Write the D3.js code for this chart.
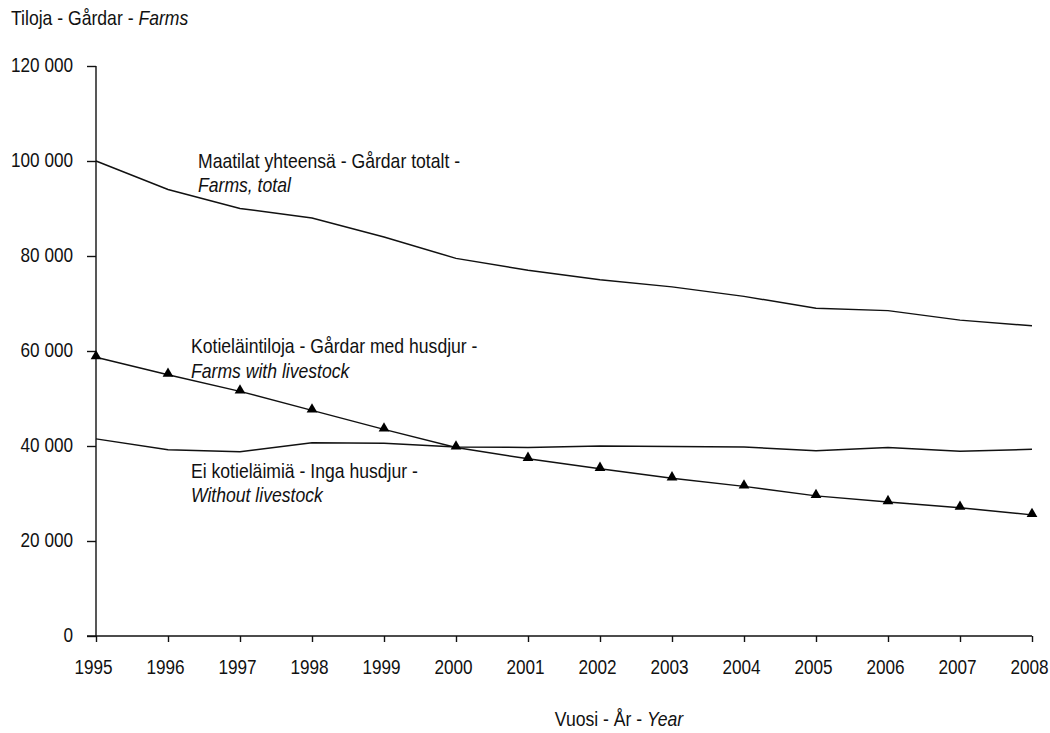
<!DOCTYPE html>
<html><head><meta charset="utf-8">
<script src="https://cdn.jsdelivr.net/npm/d3@7"></script>
<style>
body{margin:0;background:#fff;}
text{font-family:"Liberation Sans",Arial,sans-serif;fill:#111;}
</style></head><body>
<svg id="c" width="1050" height="733"></svg>
<script>
const years = [1995,1996,1997,1998,1999,2000,2001,2002,2003,2004,2005,2006,2007,2008];
const farmsTotal = [100000,94000,90000,88000,84000,79500,77000,75000,73500,71500,69000,68500,66500,65300];
const withLivestock = [58700,55000,51500,47500,43500,39700,37300,35200,33200,31500,29500,28200,27000,25500];
const withoutLivestock = [41500,39200,38800,40700,40600,39800,39700,40000,39900,39800,39000,39700,38900,39300];
const yTicks = [0,20000,40000,60000,80000,100000,120000];

const SX = 0.88, FS = 20;
const svg = d3.select("#c");
const x = d3.scaleLinear().domain([1995,2008]).range([96,1032]);
const y = d3.scaleLinear().domain([0,120000]).range([636,66]);
const fmt = v => v === 0 ? "0" : d3.format(",")(v).replace(/,/g," ");

// y axis
const ya = svg.append("g").attr("transform","translate(96,0)")
  .call(d3.axisLeft(y).tickValues(yTicks).tickSize(9).tickPadding(14).tickFormat(fmt));
ya.select(".domain").attr("d","M0,66V636").attr("stroke","#111").attr("stroke-width",1.4);
ya.selectAll(".tick line").attr("stroke","#111").attr("stroke-width",1.4);
ya.selectAll(".tick text").attr("font-size",19.5).attr("font-family",null).attr("fill","#111")
  .attr("transform",`scale(${SX},1)`).attr("x",-23/SX).attr("dy","0.27em");

// x axis
const xa = svg.append("g").attr("transform","translate(0,636)")
  .call(d3.axisBottom(x).tickValues(years).tickSize(6).tickPadding(18).tickFormat(d3.format("d")));
xa.select(".domain").attr("d","M87,0H1032").attr("stroke","#111").attr("stroke-width",1.4);
xa.selectAll(".tick line").attr("stroke","#111").attr("stroke-width",1.4);
xa.selectAll(".tick text").attr("font-size",19.5).attr("font-family",null).attr("fill","#111")
  .attr("transform",`scale(${SX},1)`).attr("x",-3/SX).attr("dy","0.71em");

const line = d3.line().x((d,i)=>x(years[i])).y(d=>y(d));
[farmsTotal, withoutLivestock, withLivestock].forEach(s=>{
  svg.append("path").attr("d",line(s)).attr("fill","none").attr("stroke","#111").attr("stroke-width",1.5);
});
svg.append("g").selectAll("path").data(withLivestock).join("path")
  .attr("d", d3.symbol().type(d3.symbolTriangle).size(50))
  .attr("transform",(d,i)=>`translate(${x(years[i])},${y(d)-1})`)
  .attr("fill","#000");

function label(xp, yp, parts, anchor){
  const t = svg.append("text").attr("transform",`translate(${xp},${yp}) scale(${SX},1)`)
    .attr("font-size",FS).attr("text-anchor",anchor||"start");
  parts.forEach(p=>t.append("tspan").text(p[0]).attr("font-style",p[1]?"italic":null));
}
label(11,25,[["Tiloja - Gårdar - ",0],["Farms",1]]);
label(198,168,[["Maatilat yhteensä - Gårdar totalt -",0]]);
label(198,192,[["Farms, total",1]]);
label(191,353,[["Kotieläintiloja - Gårdar med husdjur -",0]]);
label(191,378,[["Farms with livestock",1]]);
label(191,478,[["Ei kotieläimiä - Inga husdjur -",0]]);
label(191,502,[["Without livestock",1]]);
label(619,726,[["Vuosi - År - ",0],["Year",1]],"middle");
</script>
</body></html>
